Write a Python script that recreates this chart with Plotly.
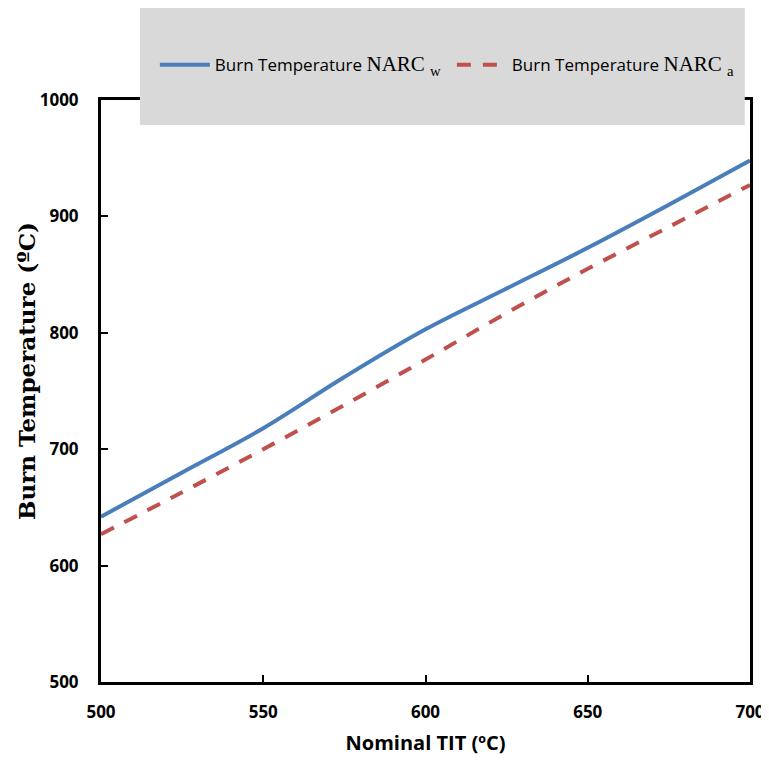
import plotly.graph_objects as go

tit = [500, 525, 550, 575, 600, 625, 650, 675, 700]
burn_w = [642, 680, 718, 762, 803, 838, 873, 910, 948]
burn_a = [627, 663, 700, 738, 777, 817, 855, 891, 927]
x_ticks = [500, 550, 600, 650, 700]
y_ticks = [500, 600, 700, 800, 900, 1000]

fig = go.Figure()
fig.add_trace(go.Scatter(
    x=tit, y=burn_w, mode="lines", line=dict(color="#4A7EBB", width=4, shape="spline"),
    name='Burn Temperature <span style="font-family:Liberation Serif;font-size:21px">NARC <sub>w</sub></span>'))
fig.add_trace(go.Scatter(
    x=tit, y=burn_a, mode="lines", line=dict(color="#C0504D", width=4, dash="14px,12px", shape="spline"),
    name='Burn Temperature <span style="font-family:Liberation Serif;font-size:21px">NARC <sub>a</sub></span>'))

axis_common = dict(showline=True, linecolor="black", linewidth=3, mirror=True,
                   ticks="inside", ticklen=7, tickwidth=2, tickcolor="black",
                   showgrid=False, zeroline=False,
                   tickfont=dict(family="Open Sans", size=17, color="black", weight="bold"))

fig.update_xaxes(range=[500, 700], tickvals=x_ticks, ticklabelstandoff=13, **axis_common,
                 title=dict(text="Nominal TIT (ºC)", font=dict(family="Open Sans", size=20, color="black", weight="bold"), standoff=14))
fig.update_yaxes(range=[500, 1000], tickvals=y_ticks, ticklabelstandoff=16, **axis_common)

fig.add_annotation(text="Burn Temperature (ºC)", textangle=-90, showarrow=False,
                   xref="paper", yref="paper", x=-0.115, y=0.535, xanchor="center", yanchor="middle",
                   font=dict(family="DejaVu Serif", size=23, color="black", weight="bold"))

fig.add_shape(type="rect", xref="paper", yref="paper", x0=0.060, x1=0.992, y0=0.957, y1=1.158,
              fillcolor="#D9D9D9", line=dict(width=0), layer="above")

fig.update_layout(
    width=761, height=753,
    margin=dict(l=93, r=19, t=92, b=79, autoexpand=False),
    plot_bgcolor="white", paper_bgcolor="white",
    legend=dict(orientation="h", x=0.083, xanchor="left", y=1.06, yanchor="middle",
                bgcolor="rgba(0,0,0,0)", font=dict(family="Open Sans", size=17, color="black"),
                itemwidth=50, entrywidthmode="pixels", entrywidth=232),
)

fig.write_html("out.html")
